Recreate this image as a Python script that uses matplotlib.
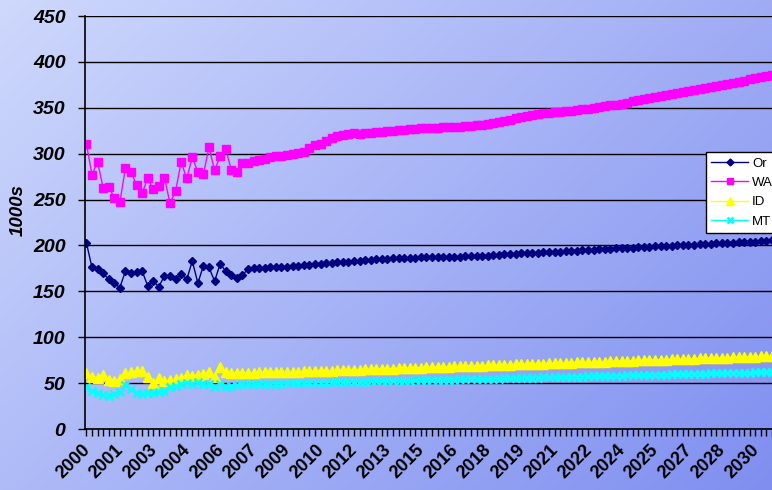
import numpy as np
import matplotlib
matplotlib.use("Agg")
from matplotlib import pyplot as plt
from matplotlib import transforms

# quarterly series, 2000 Q1 .. 2030 Q4 (thousands)
or_vals = [203, 176, 174, 170, 163, 159, 154, 172, 170, 171, 172, 156, 161, 155, 167, 167,
           163, 169, 163, 183, 159, 178, 176, 161, 180, 172, 168, 164, 168, 174, 175,
           175.5, 175.8, 176.1, 176.4, 176.7, 177.0, 177.5, 178.0, 178.5, 179.0, 179.5, 180.0,
           180.5, 181.0, 181.5, 182.0, 182.5, 183.0, 183.4, 183.8, 184.3, 184.7, 185.1, 185.5,
           185.8, 186.0, 186.3, 186.5, 186.8, 187.0, 187.1, 187.2, 187.3, 187.4, 187.5, 187.5,
           187.8, 188.0, 188.3, 188.5, 188.8, 189.0, 189.4, 189.8, 190.3, 190.7, 191.1, 191.5,
           191.8, 192.0, 192.3, 192.5, 192.8, 193.0, 193.3, 193.7, 194.0, 194.3, 194.7, 195.0,
           195.3, 195.7, 196.0, 196.3, 196.7, 197.0, 197.3, 197.7, 198.0, 198.3, 198.7, 199.0,
           199.3, 199.5, 199.8, 200.0, 200.3, 200.5, 200.8, 201.2, 201.5, 201.8, 202.2, 202.5,
           202.8, 203.0, 203.3, 203.5, 203.8, 204.0, 204.5, 205.0, 205.5]
wa_vals = [311, 277, 291, 263, 264, 252, 247, 284, 280, 266, 257, 273, 261, 265, 274, 246,
           259, 291, 273, 296, 280, 278, 307, 282, 297, 305, 282, 280, 290, 290, 292,
           293, 294.5, 296, 297, 298, 299, 300, 301, 302, 306, 309, 311,
           314, 317, 319, 320.5, 321.5, 322, 321.5, 322.5, 323, 323.5, 324, 324.5,
           325, 325.5, 326, 326.5, 327, 327.5, 327.8, 328, 328.3, 328.6, 329, 329.3,
           329.6, 330, 330.5, 331, 331.5, 332, 333, 334, 335.5, 337, 338.5, 340,
           341, 342, 343, 344, 344.5, 345, 345.5, 346, 347, 348, 348.5, 349,
           350, 351, 352, 352.5, 353, 354, 355.5, 357, 358.5, 360, 361, 362,
           363, 364, 365, 366, 367, 368, 369, 370.5, 372, 373, 374, 375,
           376, 377.5, 378.5, 379.5, 381, 382, 383.5, 385, 386]
id_vals = [61, 57, 56, 59, 53, 52, 55, 61, 62, 63, 63, 57, 50, 56, 52, 53,
           54, 56, 59, 58, 59, 60, 62, 57, 68, 62, 61, 61, 61, 61, 61,
           61.6, 61.7, 61.8, 61.9, 62.0, 62.1, 62.3, 62.5, 62.7, 62.9, 63.1, 63.3,
           63.5, 63.7, 63.9, 64.1, 64.3, 64.5, 64.7, 64.9, 65.1, 65.3, 65.5, 65.7,
           65.9, 66.1, 66.3, 66.5, 66.7, 66.9, 67.1, 67.3, 67.5, 67.7, 67.9, 68.1,
           68.3, 68.5, 68.7, 68.9, 69.1, 69.3, 69.5, 69.7, 69.9, 70.1, 70.3, 70.5,
           70.7, 70.9, 71.1, 71.3, 71.5, 71.7, 71.9, 72.1, 72.3, 72.5, 72.7, 72.9,
           73.1, 73.3, 73.5, 73.7, 73.9, 74.1, 74.3, 74.5, 74.7, 74.9, 75.1, 75.3,
           75.5, 75.7, 75.9, 76.1, 76.3, 76.5, 76.7, 76.9, 77.1, 77.3, 77.5, 77.7,
           77.9, 78.1, 78.3, 78.5, 78.7, 78.9, 79.1, 79.3, 79.5]
mt_vals = [46, 41, 39, 37, 36, 38, 40, 48, 44, 39, 38, 39, 39, 40, 41, 46,
           47, 49, 50, 49, 51, 49, 49, 46, 49, 46, 47, 48, 49, 49, 49,
           49.1, 49.2, 49.3, 49.4, 49.5, 49.6, 49.8, 49.9, 50.0, 50.2, 50.3, 50.5,
           50.6, 50.8, 50.9, 51.0, 51.2, 51.3, 51.5, 51.6, 51.8, 51.9, 52.0, 52.2,
           52.3, 52.5, 52.6, 52.8, 52.9, 53.0, 53.2, 53.3, 53.5, 53.6, 53.8, 53.9,
           54.0, 54.2, 54.3, 54.5, 54.6, 54.8, 54.9, 55.0, 55.2, 55.3, 55.5, 55.6,
           55.8, 55.9, 56.0, 56.2, 56.3, 56.5, 56.6, 56.8, 56.9, 57.0, 57.2, 57.3,
           57.5, 57.6, 57.8, 57.9, 58.0, 58.2, 58.3, 58.5, 58.6, 58.8, 58.9, 59.0,
           59.2, 59.3, 59.5, 59.6, 59.8, 59.9, 60.0, 60.2, 60.3, 60.5, 60.6, 60.8,
           60.9, 61.0, 61.2, 61.3, 61.5, 61.6, 61.8, 61.9, 62.0]

# one label every sixth quarter
year_labels = ["2000", "2001", "2003", "2004", "2006", "2007", "2009", "2010", "2012", "2013",
               "2015", "2016", "2018", "2019", "2021", "2022", "2024", "2025", "2027", "2028",
               "2030"]

fig = plt.figure(figsize=(7.72, 4.90), dpi=100)

# diagonal blue gradient behind everything
bg = fig.add_axes([0, 0, 1, 1], zorder=-10)
gx, gy = np.meshgrid(np.linspace(0, 1, 400), np.linspace(0, 1, 260))
t = (gx * 0.6 + gy * 0.4)
c0 = np.array([0.81, 0.85, 0.99])
c1 = np.array([0.50, 0.56, 0.94])
img = c0[None, None, :] * (1 - t[..., None]) + c1[None, None, :] * t[..., None]
bg.imshow(img, aspect="auto", extent=[0, 1, 0, 1], origin="upper")
bg.axis("off")

ax = fig.add_axes([85 / 772, 1 - 429 / 490, 1 - 85 / 772, (429 - 16) / 490])
ax.patch.set_alpha(0)

x = np.arange(len(or_vals))
ax.plot(x, or_vals, color="#000080", lw=1.0, marker="D", ms=4.4, label="Or")
ax.plot(x, wa_vals, color="#FF00FF", lw=1.0, marker="s", ms=5.4, label="WA")
ax.plot(x, id_vals, color="#FFFF00", lw=1.0, marker="^", ms=7, label="ID")
ax.plot(x, mt_vals, color="#00FFFF", lw=1.0, marker="x", ms=6, mew=1.8, label="MT")

ax.set_xlim(-0.25, 123.0)
ax.set_ylim(0, 450)
ax.set_yticks(np.arange(0, 451, 50))
ax.yaxis.grid(True, color="black", lw=1.0)
ax.set_axisbelow(True)

ax.set_xticks(x, minor=True)
ax.set_xticks(np.arange(0, 121, 6))
ax.set_xticklabels(year_labels, rotation=45, ha="right", rotation_mode="anchor",
                   fontsize=13, fontweight="bold", family="Liberation Sans")
ax.tick_params(axis="x", which="both", length=5, width=1, direction="out", pad=4)
ax.tick_params(axis="y", length=5, width=1, direction="out", pad=9)
shift = transforms.ScaledTranslation(-5 / 100, 0, fig.dpi_scale_trans)
for lab in ax.get_xticklabels():
    lab.set_transform(lab.get_transform() + shift)
for lab in ax.get_yticklabels():
    lab.set_fontsize(14)
    lab.set_fontweight("bold")
    lab.set_fontstyle("italic")
    lab.set_family("Liberation Sans")

for side in ("top", "right"):
    ax.spines[side].set_visible(False)
ax.spines["left"].set_linewidth(1.2)
ax.spines["bottom"].set_linewidth(1.2)

fig.text(18 / 772, 1 - 210 / 490, "1000s", rotation=90, ha="center", va="center",
         fontsize=13.5, fontweight="bold", fontstyle="italic", family="Liberation Sans")

leg = ax.legend(loc="upper left", bbox_to_anchor=(706 / 772, 1 - 152 / 490),
                bbox_transform=fig.transFigure, fontsize=9.5, frameon=True,
                fancybox=False, framealpha=1, edgecolor="black", handlelength=2.8,
                markerscale=0.8, borderpad=0.4, labelspacing=0.55, handletextpad=0.3,
                borderaxespad=0)
leg.get_frame().set_linewidth(1.0)
for txt in leg.get_texts():
    txt.set_family("Liberation Sans")

fig.savefig("out.png", dpi=100)
